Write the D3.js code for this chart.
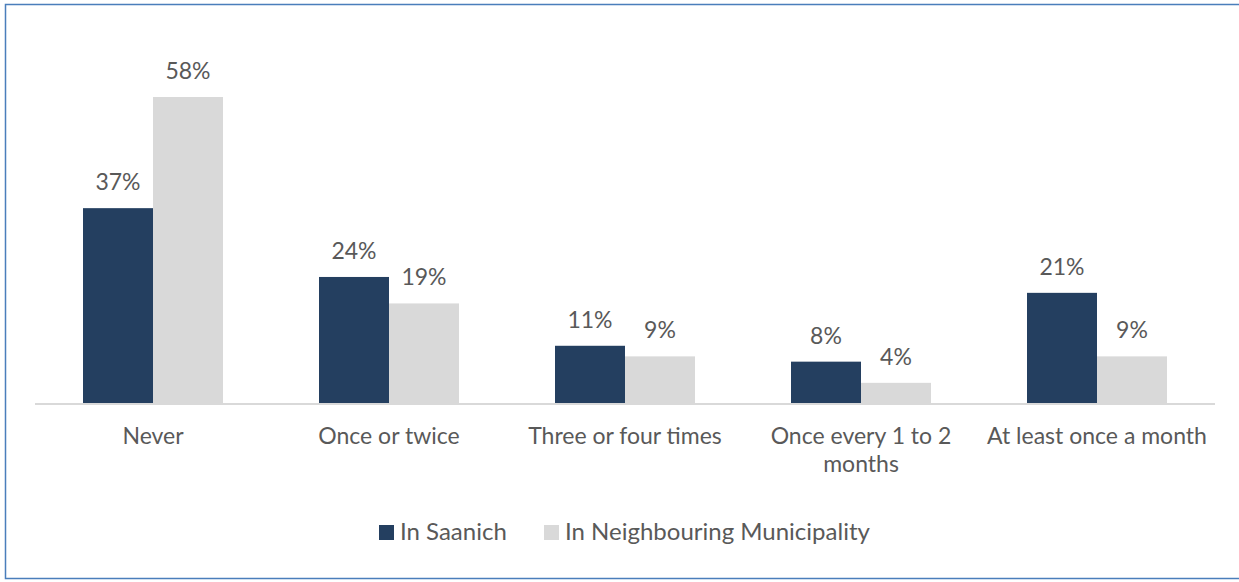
<!DOCTYPE html>
<html>
<head>
<meta charset="utf-8">
<script src="https://cdn.jsdelivr.net/npm/d3@7"></script>
<style>
  html, body { margin: 0; padding: 0; background: #ffffff; }
  svg { display: block; }
  text { font-family: Lato, "Open Sans", sans-serif; fill: #595959; }
</style>
</head>
<body>
<svg id="chart" width="1239" height="582"></svg>
<script>
// Frequency categories along the x axis
const categories = [
  "Never",
  "Once or twice",
  "Three or four times",
  "Once every 1 to 2 months",
  "At least once a month"
];
// Series names (legend)
const seriesNames = ["In Saanich", "In Neighbouring Municipality"];
// Percent values per series
const saanich = [37, 24, 11, 8, 21];
const neighbouring = [58, 19, 9, 4, 9];
const seriesColors = ["#243f60", "#d9d9d9"];

const W = 1239, H = 582;
const plot = { left: 35, right: 1215, top: 97, bottom: 404 };

const svg = d3.select("#chart");

// Outer frame
svg.append("rect")
  .attr("x", 5.5).attr("y", 4.5)
  .attr("width", W + 10).attr("height", 574)
  .attr("fill", "none")
  .attr("stroke", "#4a7ebb")
  .attr("stroke-width", 1.5);

const x = d3.scaleBand()
  .domain(categories)
  .range([plot.left, plot.right])
  .paddingInner(96 / 236)
  .paddingOuter(48 / 236);

const xInner = d3.scaleBand()
  .domain(seriesNames)
  .range([0, x.bandwidth()]);

const y = d3.scaleLinear()
  .domain([0, 58])
  .range([plot.bottom, plot.top]);

const rows = categories.map((c, i) => ({
  category: c,
  values: [
    { series: seriesNames[0], value: saanich[i], color: seriesColors[0] },
    { series: seriesNames[1], value: neighbouring[i], color: seriesColors[1] }
  ]
}));

const groups = svg.append("g").selectAll("g")
  .data(rows)
  .join("g")
  .attr("transform", d => `translate(${x(d.category)},0)`);

groups.selectAll("rect")
  .data(d => d.values)
  .join("rect")
  .attr("x", d => xInner(d.series))
  .attr("y", d => y(d.value))
  .attr("width", xInner.bandwidth())
  .attr("height", d => y(0) - y(d.value))
  .attr("fill", d => d.color);

groups.selectAll("text.val")
  .data(d => d.values)
  .join("text")
  .attr("class", "val")
  .attr("x", d => xInner(d.series) + xInner.bandwidth() / 2)
  .attr("y", d => y(d.value) - 18)
  .attr("text-anchor", "middle")
  .style("font-size", "23px")
  .text(d => d.value + "%");

// Category axis
const xAxis = svg.append("g")
  .attr("transform", `translate(0,${plot.bottom})`)
  .call(d3.axisBottom(x).tickSize(0).tickPadding(0));
xAxis.select(".domain")
  .attr("stroke", "#d9d9d9")
  .attr("stroke-width", 2)
  .attr("d", `M${plot.left},0H${plot.right}`);
xAxis.selectAll(".tick text")
  .attr("y", 40)
  .attr("dy", null)
  .style("font-size", "23px")
  .style("font-family", "Lato, 'Open Sans', sans-serif")
  .attr("fill", "#595959")
  .call(wrap, 228);

function wrap(sel, width) {
  sel.each(function () {
    const t = d3.select(this);
    const words = t.text().split(/\s+/);
    const y0 = +t.attr("y");
    t.text(null);
    let line = [];
    let lineNo = 0;
    let tspan = t.append("tspan").attr("x", 0).attr("y", y0);
    for (const w of words) {
      line.push(w);
      tspan.text(line.join(" "));
      if (tspan.node().getComputedTextLength() > width && line.length > 1) {
        line.pop();
        tspan.text(line.join(" "));
        line = [w];
        lineNo += 1;
        tspan = t.append("tspan").attr("x", 0).attr("y", y0 + lineNo * 28).text(w);
      }
    }
  });
}

// Legend
const legendItems = [
  { name: seriesNames[0], color: seriesColors[0], x: 379 },
  { name: seriesNames[1], color: seriesColors[1], x: 544 }
];
const legend = svg.append("g");
legendItems.forEach(d => {
  legend.append("rect")
    .attr("x", d.x).attr("y", 525)
    .attr("width", 15).attr("height", 15)
    .attr("fill", d.color);
  legend.append("text")
    .attr("x", d.x + 21).attr("y", 540)
    .style("font-size", "24px")
    .text(d.name);
});
</script>
</body>
</html>
